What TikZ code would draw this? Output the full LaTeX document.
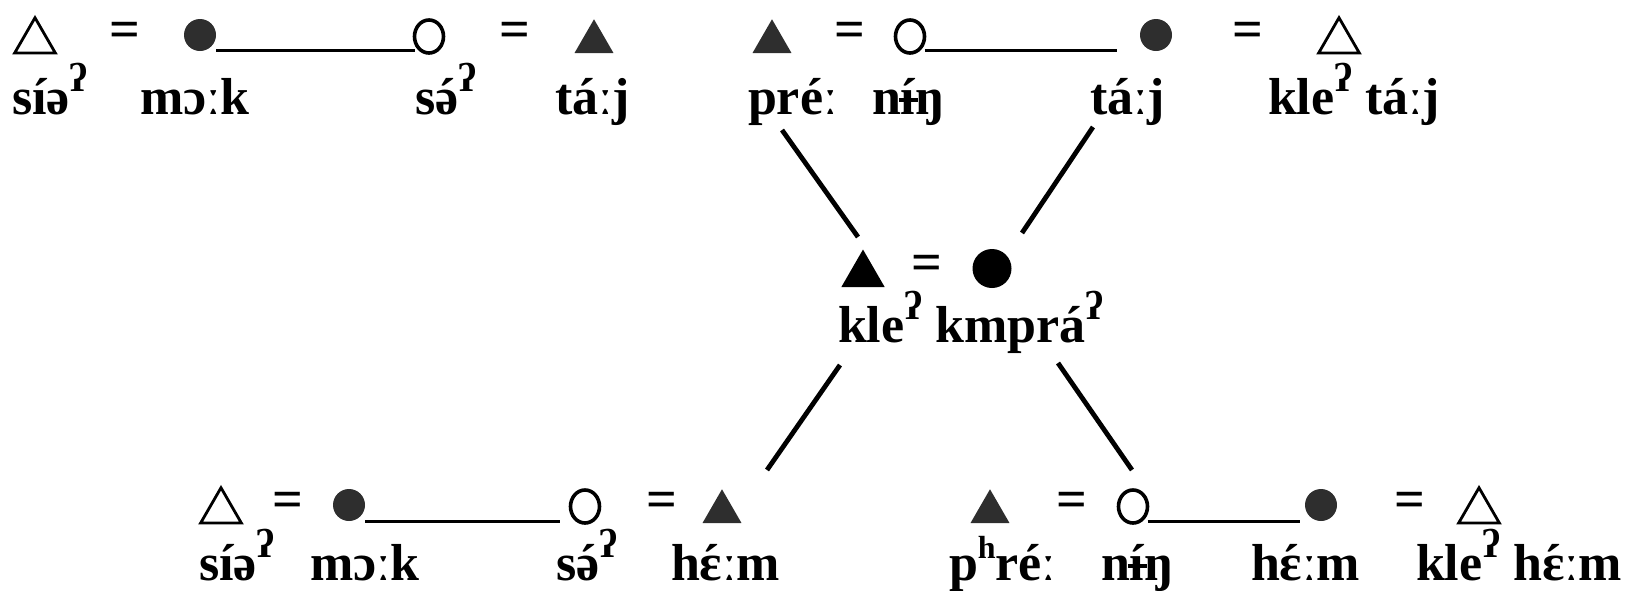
\documentclass[tikz,border=0pt]{standalone}
\usepackage{fontspec}
\setmainfont{Liberation Serif}
\usetikzlibrary{shapes.geometric}
\newcommand{\gs}{\raisebox{11.5pt}{\fontsize{20}{20}\selectfont ʔ}}
\newcommand{\hsup}{\raisebox{11pt}{\fontsize{16}{16}\selectfont h}}
\newcommand{\acc}[1]{\ooalign{#1\cr\hidewidth ´\hidewidth\cr}}
\newcommand{\barí}{\ooalign{í\cr\hidewidth\rule[0.24em]{0.36em}{0.06em}\hidewidth\cr}}
\begin{document}
\begin{tikzpicture}[x=0.5pt,y=-0.5pt,
  every node/.style={inner sep=0pt, outer sep=0pt},
  lab/.style={anchor=base west, font=\fontsize{26}{30}\selectfont\bfseries},
  eqs/.style={anchor=center, font=\fontsize{27}{30}\selectfont\bfseries},
  otri/.style={draw, line width=1.4pt, regular polygon, regular polygon sides=3, minimum size=23.5pt, anchor=south},
  stri/.style={fill=black!82, regular polygon, regular polygon sides=3, minimum size=22.5pt, anchor=south},
  btri/.style={fill=black, regular polygon, regular polygon sides=3, minimum size=25pt, anchor=south},
  ocirc/.style={draw, line width=1.8pt, ellipse, minimum width=14.5pt, minimum height=16.5pt, anchor=south},
  scirc/.style={fill=black!82, circle, minimum size=16pt, anchor=south},
  bcirc/.style={fill=black, circle, minimum size=19.5pt, anchor=south},
  hline/.style={line width=1.5pt},
  dline/.style={line width=2.4pt},
]
\useasboundingbox (0,0) rectangle (1644,590);

% ---------- top left ----------
\node[otri]  (T1) at (35,53) {};
\node[eqs]   (E1) at (125,35) {=};
\node[scirc] (S1) at (200,51) {};
\node[ocirc] (O1) at (429,53) {};
\node[eqs]   (E2) at (515,35) {=};
\node[stri]  (t1) at (594,53) {};
\draw[hline] (S1.east |- 0,50) -- (O1.west |- 0,50);
\node[lab] (L1) at (12,114) {síə\gs};
\node[lab] (L2) at (140,114) {mɔːk};
\node[lab] (L3) at (415,114) {s\acc{ə}\gs};
\node[lab] (L4) at (555,114) {táːj};

% ---------- top right ----------
\node[stri]  (t2) at (772,53) {};
\node[eqs]   (E3) at (850,35) {=};
\node[ocirc] (O2) at (910,53) {};
\node[scirc] (S2) at (1156,51) {};
\node[eqs]   (E4) at (1248,35) {=};
\node[otri]  (T2) at (1339,53) {};
\coordinate (r1) at (1117,50);
\draw[hline] (O2.east |- r1) -- (r1);
\node[lab] (L5) at (748,114) {préː};
\node[lab] (L6) at (872,114) {n\barí ŋ};
\node[lab] (L7) at (1090,114) {táːj};
\node[lab] (L8) at (1268,114) {kle\gs{} táːj};

% ---------- middle ----------
\node[btri]  (T3) at (863,287) {};
\node[eqs]   (E5) at (927,268) {=};
\node[bcirc] (C3) at (992,288) {};
\node[lab] (L9) at (838,342) {kle\gs{} kmprá\gs};

\coordinate (a1) at (782,130);  \coordinate (a2) at (858,237);
\coordinate (b1) at (1093,127); \coordinate (b2) at (1022,233);
\coordinate (c1) at (840,365);  \coordinate (c2) at (767,470);
\coordinate (d1) at (1058,363); \coordinate (d2) at (1132,470);
\draw[dline] (a1) -- (a2);
\draw[dline] (b1) -- (b2);
\draw[dline] (c1) -- (c2);
\draw[dline] (d1) -- (d2);

% ---------- bottom left ----------
\node[otri]  (T4) at (221,523) {};
\node[eqs]   (E6) at (288,505) {=};
\node[scirc] (S4) at (349,521) {};
\node[ocirc] (O4) at (585,523) {};
\node[eqs]   (E7) at (662,505) {=};
\node[stri]  (t4) at (722,523) {};
\coordinate (l4) at (560,521);
\draw[hline] (S4.east |- l4) -- (l4);
\node[lab] (L10) at (199,580) {síə\gs};
\node[lab] (L11) at (310,580) {mɔːk};
\node[lab] (L12) at (556,580) {s\acc{ə}\gs};
\node[lab] (L13) at (671,580) {h\acc{ɛ}ːm};

% ---------- bottom right ----------
\node[stri]  (t5) at (990,523) {};
\node[eqs]   (E8) at (1072,505) {=};
\node[ocirc] (O5) at (1133,523) {};
\node[scirc] (S5) at (1321,521) {};
\node[eqs]   (E9) at (1410,505) {=};
\node[otri]  (T5) at (1479,523) {};
\coordinate (l5) at (1300,521);
\draw[hline] (O5.east |- l5) -- (l5);
\node[lab] (L14) at (949,580) {p\hsup réː};
\node[lab] (L15) at (1101,580) {n\barí ŋ};
\node[lab] (L16) at (1251,580) {h\acc{ɛ}ːm};
\node[lab] (L17) at (1416,580) {kle\gs{} h\acc{ɛ}ːm};
\end{tikzpicture}
\end{document}
